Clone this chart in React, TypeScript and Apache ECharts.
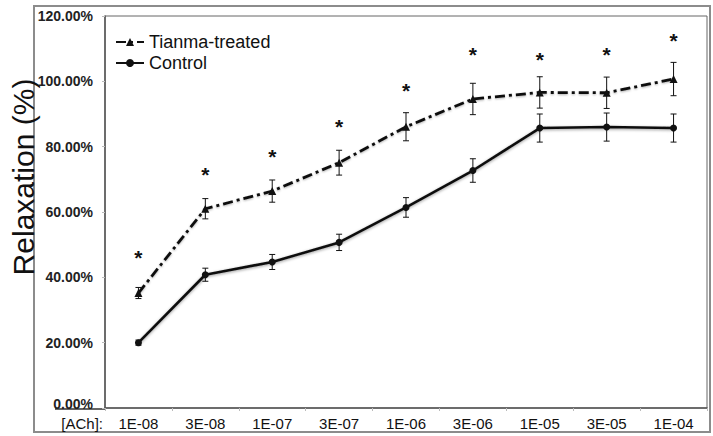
import React, { useEffect, useRef } from "react";
import * as echarts from "echarts";

const categories = ["1E-08", "3E-08", "1E-07", "3E-07", "1E-06", "3E-06", "1E-05", "3E-05", "1E-04"];
const tianma = [35.2, 61.0, 66.4, 75.1, 86.1, 94.6, 96.6, 96.5, 100.7];
const tianmaErr = [1.7, 3.1, 3.4, 3.8, 4.3, 4.8, 4.8, 4.8, 5.1];
const control = [20.0, 40.8, 44.7, 50.7, 61.4, 72.7, 85.7, 86.0, 85.7];
const controlErr = [0.8, 2.0, 2.3, 2.5, 3.0, 3.6, 4.3, 4.3, 4.3];
const asteriskY = [46.0, 71.6, 76.9, 86.1, 97.2, 108.1, 106.8, 108.1, 112.5];
const yTicks = { min: 0, max: 120, interval: 20 };

const FONT = "'Liberation Sans', Arial, Helvetica, sans-serif";

function errorSeries(vals: number[], errs: number[]) {
  return {
    type: "custom",
    silent: true,
    z: 1,
    data: vals.map((v, i) => [i, v, errs[i]]),
    renderItem: (params: any, api: any) => {
      const x = api.value(0);
      const y = api.value(1);
      const e = api.value(2);
      const t = api.coord([x, y + e]);
      const b = api.coord([x, y - e]);
      const h = 3;
      const st = { stroke: "#111", lineWidth: 1 };
      return {
        type: "group",
        children: [
          { type: "line", shape: { x1: t[0], y1: t[1], x2: b[0], y2: b[1] }, style: st },
          { type: "line", shape: { x1: t[0] - h, y1: t[1], x2: t[0] + h, y2: t[1] }, style: st },
          { type: "line", shape: { x1: b[0] - h, y1: b[1], x2: b[0] + h, y2: b[1] }, style: st },
        ],
      };
    },
  };
}

export default function App() {
  const ref = useRef<HTMLDivElement>(null);
  useEffect(() => {
    if (!ref.current) return;
    const chart = echarts.init(ref.current, null, { renderer: "svg" });
    chart.setOption({
      animation: false,
      backgroundColor: "#fff",
      textStyle: { fontFamily: FONT },
      grid: {
        left: 105,
        top: 16,
        right: 6,
        bottom: 28,
        show: true,
        borderColor: "#666",
        borderWidth: 1,
        backgroundColor: "transparent",
      },
      legend: {
        orient: "vertical",
        left: 115,
        top: 33,
        padding: 0,
        itemWidth: 28,
        itemHeight: 10,
        itemGap: 3,
        textStyle: { fontSize: 18, color: "#111", fontFamily: FONT },
        data: ["Tianma-treated", "Control"],
      },
      xAxis: {
        type: "category",
        data: categories,
        boundaryGap: true,
        axisLine: { lineStyle: { color: "#555", width: 1.5 } },
        axisTick: { show: true, length: 3, lineStyle: { color: "#bbb" } },
        axisLabel: { fontSize: 15, color: "#111", margin: 8, fontFamily: FONT },
      },
      yAxis: {
        type: "value",
        min: yTicks.min,
        max: yTicks.max,
        interval: yTicks.interval,
        splitLine: { show: false },
        axisLine: { show: true, lineStyle: { color: "#555", width: 1.5 } },
        axisTick: { show: true, length: 3, inside: false, lineStyle: { color: "#bbb" } },
        axisLabel: {
          fontSize: 14,
          fontWeight: "bold",
          color: "#222",
          margin: 12,
          fontFamily: FONT,
          formatter: (v: number) => (v === 0 ? "{z|0.00%}" : v.toFixed(2) + "%"),
          rich: {
            z: {
              fontSize: 14,
              fontWeight: "bold",
              color: "#222",
              fontFamily: FONT,
              padding: [0, 0, 8, 0],
            },
          },
        },
      },
      graphic: [
        {
          type: "rect",
          shape: { x: 34, y: 6, width: 676, height: 426 },
          style: { fill: "none", stroke: "#8c8c8c", lineWidth: 2 },
          silent: true,
        },
        {
          type: "line",
          shape: { x1: 55, y1: 409, x2: 105, y2: 409 },
          style: { stroke: "#333", lineWidth: 1.5 },
        },
        {
          type: "text",
          x: 103,
          y: 423,
          style: {
            text: "[ACh]:",
            fontSize: 15,
            fontFamily: FONT,
            fill: "#111",
            textAlign: "right",
            textVerticalAlign: "middle",
          },
        },
        {
          type: "text",
          x: 23,
          y: 177,
          rotation: Math.PI / 2,
          style: {
            text: "Relaxation (%)",
            fontSize: 30,
            fontFamily: FONT,
            fill: "#111",
            textAlign: "center",
            textVerticalAlign: "middle",
          },
        },
      ],
      series: [
        errorSeries(tianma, tianmaErr),
        errorSeries(control, controlErr),
        {
          name: "Tianma-treated",
          type: "line",
          data: tianma,
          z: 3,
          symbol: "triangle",
          symbolSize: 8,
          itemStyle: { color: "#111" },
          lineStyle: {
            color: "#111",
            width: 2.8,
            type: [10, 4, 3, 4],
            shadowColor: "rgba(0,0,0,0.3)",
            shadowBlur: 2,
            shadowOffsetY: 1,
          },
        },
        {
          name: "Control",
          type: "line",
          data: control,
          z: 3,
          symbol: "circle",
          symbolSize: 7,
          itemStyle: { color: "#111" },
          lineStyle: {
            color: "#111",
            width: 2.6,
            shadowColor: "rgba(0,0,0,0.4)",
            shadowBlur: 3,
            shadowOffsetY: 1,
          },
        },
        {
          name: "sig",
          type: "scatter",
          data: asteriskY,
          symbolSize: 0,
          silent: true,
          itemStyle: { opacity: 1, color: "#111" },
          label: {
            show: true,
            position: "inside",
            formatter: "*",
            fontSize: 21,
            fontWeight: "bold",
            color: "#111",
            opacity: 1,
            fontFamily: FONT,
          },
        },
      ],
    });
    return () => chart.dispose();
  }, []);
  return <div ref={ref} style={{ position: "fixed", left: 0, top: 0, width: 713, height: 436 }} />;
}
